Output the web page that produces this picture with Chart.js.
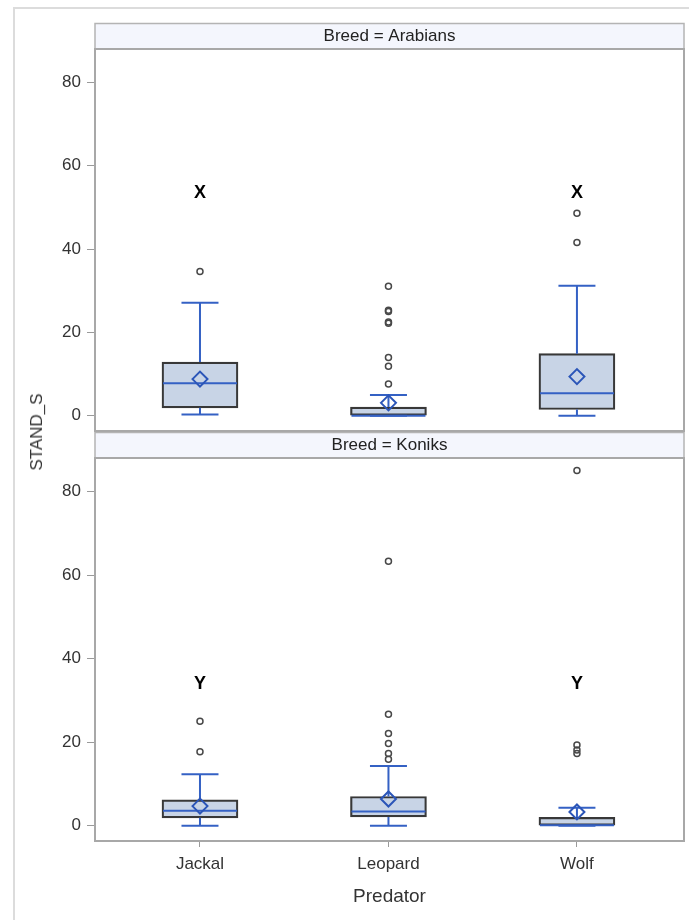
<!DOCTYPE html>
<html>
<head>
<meta charset="utf-8">
<script src="https://cdn.jsdelivr.net/npm/chart.js@4.4.0/dist/chart.umd.min.js"></script>
<style>
html, body { margin: 0; padding: 0; overflow: hidden; background: #fff; font-family: "Liberation Sans", Arial, sans-serif; }
#frame { position: absolute; left: 13px; top: 7px; width: 680px; height: 915px; border-left: 2px solid #dcdcdc; border-top: 2px solid #dcdcdc; }
canvas { position: absolute; left: 0; display: block; }
#chartTop { top: 0; }
#chartBottom { top: 432px; }
#ytitle { position: absolute; left: 37px; top: 432px; transform: translate(-50%, -50%) rotate(-90deg); font-size: 17px; color: #333; white-space: nowrap; }
</style>
</head>
<body>
<div id="frame"></div>
<canvas id="chartTop" width="689" height="432"></canvas>
<canvas id="chartBottom" width="689" height="488"></canvas>
<div id="ytitle">STAND_S</div>
<script>
const predators = ["Jackal", "Leopard", "Wolf"];
const yTicks = [0, 20, 40, 60, 80];

// Breed = Arabians
const arabiansMin = [0.3, 0, 0];
const arabiansQ1 = [1.9, 0, 1.5];
const arabiansMedian = [7.8, 0, 5.4];
const arabiansQ3 = [12.9, 2.1, 14.9];
const arabiansMax = [27.1, 5.0, 31.2];
const arabiansMean = [8.8, 3.1, 9.4];
const arabiansOutliers = [[34.6], [31.1, 25.3, 25.0, 22.5, 22.2, 14.0, 11.9, 7.6], [48.6, 41.6]];
const arabiansLetters = ["X", "", "X"];
const arabiansLetterY = 53.7;

// Breed = Koniks
const koniksMin = [0, 0, 0];
const koniksQ1 = [1.9, 2.1, 0];
const koniksMedian = [3.6, 3.4, 0.1];
const koniksQ3 = [6.2, 7.0, 2.0];
const koniksMax = [12.3, 14.3, 4.3];
const koniksMean = [4.7, 6.4, 3.3];
const koniksOutliers = [[25.0, 17.7], [63.3, 26.7, 22.1, 19.7, 17.3, 15.9], [85.0, 19.3, 18.1, 17.3]];
const koniksLetters = ["Y", "", "Y"];
const koniksLetterY = 34.3;

const FONT = "'Liberation Sans', Arial, sans-serif";
const BLUE = "#3461c4";
const BOX_FILL = "#c8d4e6";
const BOX_EDGE = "#383838";

// header strip, panel frame and group letters
const panelPlugin = {
    id: "panel",
    beforeDraw(chart, args, opts){
        const a = chart.chartArea;
        const ctx = chart.ctx;
        ctx.save();
        ctx.fillStyle = "#f4f6fd";
        ctx.fillRect(a.left, a.top - 26, a.right - a.left, 26);
        ctx.strokeStyle = "#b4b4b4";
        ctx.lineWidth = 1.5;
        ctx.strokeRect(a.left, a.top - 25.5, a.right - a.left, 25.5);
        ctx.fillStyle = "#222";
        ctx.font = "17px " + FONT;
        ctx.textAlign = "center";
        ctx.textBaseline = "middle";
        ctx.fillText(opts.title, (a.left + a.right) / 2, a.top - 12.5);
        ctx.restore();
    },
    afterDatasetsDraw(chart, args, opts){
        const a = chart.chartArea;
        const ctx = chart.ctx;
        const xs = chart.scales.x;
        const ys = chart.scales.y;
        ctx.save();
        ctx.fillStyle = "#000";
        ctx.font = "bold 18px " + FONT;
        ctx.textAlign = "center";
        ctx.textBaseline = "middle";
        opts.letters.forEach(function(t, i){
            // +1.5 so the cap height, not the em box, is centred on the value
            if(t) ctx.fillText(t, xs.getPixelForValue(i), ys.getPixelForValue(opts.letterY) + 1.5);
        });
        ctx.strokeStyle = "#a8a8a8";
        ctx.lineWidth = 2;
        ctx.strokeRect(a.left, a.top, a.right - a.left, a.bottom - a.top);
        ctx.restore();
    }
};

function makePanel(canvasId, title, mins, q1, med, q3, maxs, means, outliers, letters, letterY, showX){
    const boxes = predators.map((p, i) => ({x: i, y: [q1[i], q3[i]]}));
    const whiskers = [];
    const caps = [];
    predators.forEach(function(p, i){
        whiskers.push({x: i, y: q3[i]}, {x: i, y: maxs[i]}, {x: i, y: null});
        whiskers.push({x: i, y: mins[i]}, {x: i, y: q1[i]}, {x: i, y: null});
        caps.push({x: i, y: maxs[i]}, {x: i, y: mins[i]});
    });
    const medians = predators.map((p, i) => ({x: i, y: med[i]}));
    const meanPts = predators.map((p, i) => ({x: i, y: means[i]}));
    const outPts = [];
    outliers.forEach(function(list, i){
        list.forEach(v => outPts.push({x: i, y: v}));
    });

    const ctx = document.getElementById(canvasId).getContext("2d");
    return new Chart(ctx, {
        type: "scatter",
        data: {
            datasets: [
                {type: "bar", data: boxes, backgroundColor: BOX_FILL, borderColor: BOX_EDGE,
                 borderWidth: 2.2, borderSkipped: false, barThickness: 76, order: 5},
                {type: "line", data: whiskers, borderColor: BLUE, borderWidth: 2,
                 pointRadius: 0, spanGaps: false, order: 4},
                {type: "scatter", data: caps, pointStyle: "line", pointRadius: 18.5,
                 borderColor: BLUE, borderWidth: 2, order: 3},
                {type: "scatter", data: medians, pointStyle: "line", pointRadius: 37,
                 borderColor: BLUE, borderWidth: 2, order: 2},
                {type: "scatter", data: meanPts, pointStyle: "rectRot", pointRadius: 7.5,
                 borderColor: "#2b55b8", backgroundColor: "rgba(0,0,0,0)", borderWidth: 2, order: 1},
                {type: "scatter", data: outPts, pointStyle: "circle", pointRadius: 3,
                 borderColor: "#484848", backgroundColor: "rgba(0,0,0,0)", borderWidth: 1.5, order: 0}
            ]
        },
        options: {
            responsive: false,
            animation: false,
            events: [],
            layout: {
                autoPadding: false,
                padding: showX ? {top: 26, right: 5, bottom: 11.8, left: 0} : {top: 49, right: 5, bottom: 1, left: 0}
            },
            plugins: {
                legend: {display: false},
                tooltip: {enabled: false},
                panel: {title: title, letters: letters, letterY: letterY}
            },
            scales: {
                x: {
                    type: "linear",
                    display: showX,
                    min: -0.557,
                    max: 2.568,
                    offset: false,
                    grid: {offset: false, drawOnChartArea: false, drawTicks: true, tickLength: 6, color: "#9a9a9a"},
                    border: {display: false},
                    afterBuildTicks: s => { s.ticks = predators.map((p, i) => ({value: i})); },
                    afterFit: s => {
                        s.height = showX ? 67.2 : 0;
                        s.paddingLeft = 0;
                        s.paddingRight = 0;
                    },
                    ticks: {padding: 7, color: "#333", font: {size: 17, family: FONT},
                            callback: v => predators[v]},
                    title: {display: true, text: "Predator", color: "#333", padding: 0,
                            font: {size: 19, family: FONT}}
                },
                y: {
                    type: "linear",
                    min: -3.65,
                    max: 88,
                    grid: {drawOnChartArea: false, drawTicks: true, tickLength: 8, color: "#9a9a9a"},
                    border: {display: false},
                    afterBuildTicks: s => { s.ticks = yTicks.map(v => ({value: v})); },
                    afterFit: s => {
                        s.width = 95;
                        s.paddingTop = 0;
                        s.paddingBottom = 0;
                    },
                    ticks: {padding: 6, color: "#333", font: {size: 17, family: FONT}}
                }
            }
        },
        plugins: [panelPlugin]
    });
}

makePanel("chartTop", "Breed = Arabians", arabiansMin, arabiansQ1, arabiansMedian, arabiansQ3,
    arabiansMax, arabiansMean, arabiansOutliers, arabiansLetters, arabiansLetterY, false);
makePanel("chartBottom", "Breed = Koniks", koniksMin, koniksQ1, koniksMedian, koniksQ3,
    koniksMax, koniksMean, koniksOutliers, koniksLetters, koniksLetterY, true);
</script>
</body>
</html>
